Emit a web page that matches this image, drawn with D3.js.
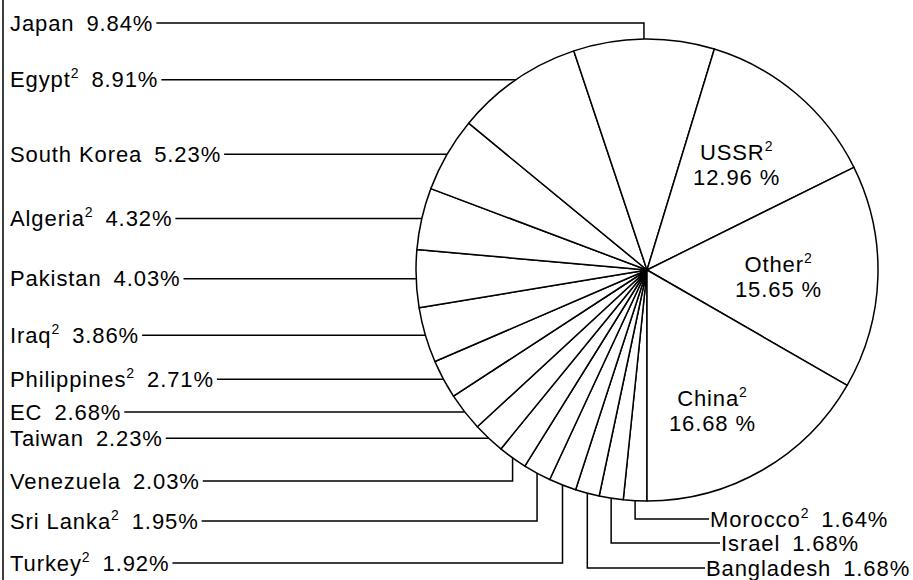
<!DOCTYPE html>
<html>
<head>
<meta charset="utf-8">
<script src="https://cdn.jsdelivr.net/npm/d3@7"></script>
<style>
  body { margin: 0; background: #fff; }
  text { font-family: "Liberation Sans", Arial, sans-serif; font-size: 22px; fill: #000; letter-spacing: 0.9px; }
</style>
</head>
<body>
<div id="chart"></div>
<script>
// slices, clockwise starting at 6 o'clock
const countries = ["Morocco", "Israel", "Bangladesh", "Turkey", "Sri Lanka", "Venezuela",
  "Taiwan", "EC", "Philippines", "Iraq", "Pakistan", "Algeria", "South Korea", "Egypt",
  "Japan", "USSR", "Other", "China"];
const shares = [1.64, 1.68, 1.68, 1.92, 1.95, 2.03, 2.23, 2.68, 2.71, 3.86, 4.03, 4.32,
  5.23, 8.91, 9.84, 12.96, 15.65, 16.68];
const footnote2 = ["Morocco", "Turkey", "Sri Lanka", "Philippines", "Iraq", "Algeria",
  "Egypt", "USSR", "Other", "China"];
const insideLabels = ["USSR", "Other", "China"];

const data = countries.map((c, i) => ({name: c, value: shares[i], note: footnote2.includes(c)}));

// layout for the outside labels (labels not listed here sit level with their slice)
const elbowLabels = {
  "Japan": {side: "left", y: 23},
  "Venezuela": {side: "left", y: 481},
  "Sri Lanka": {side: "left", y: 521},
  "Turkey": {side: "left", y: 563},
  "Bangladesh": {side: "right", x: 706, y: 568},
  "Israel": {side: "right", x: 721, y: 543},
  "Morocco": {side: "right", x: 710, y: 519}
};
const insidePos = {"USSR": {k: 0.6, da: 0}, "Other": {k: 0.57, da: 1}, "China": {k: 0.67, da: 5}};

const width = 913, height = 580;
const cx = 647, cy = 270, radius = 231;
const leftX = 10;

const svg = d3.select("#chart")
  .append("svg")
    .attr("width", width)
    .attr("height", height);

// frame edge on the left
svg.append("line")
  .attr("x1", 3).attr("x2", 3).attr("y1", 0).attr("y2", height)
  .attr("stroke", "#000").attr("stroke-width", 1.5);

const pie = d3.pie()
    .sort(null)
    .startAngle(Math.PI)
    .endAngle(3 * Math.PI)
  .value(d => d.value);

const arcs = pie(data);

const arc = d3.arc()
    .innerRadius(0)
    .outerRadius(radius);

const g = svg.append("g")
    .attr("transform", `translate(${cx}, ${cy})`);

g.selectAll("path")
  .data(arcs)
  .join("path")
    .attr("d", arc)
    .attr("fill", "#fff")
    .attr("stroke", "#000")
    .attr("stroke-width", 1.5)
    .attr("stroke-linejoin", "round");

function addLabel(sel, d) {
  sel.append("tspan").text(d.data.name);
  if (d.data.note) {
    sel.append("tspan").attr("dy", -9).style("font-size", "14px").text("2");
    sel.append("tspan").attr("dy", 9).attr("dx", 12).text(d.data.value.toFixed(2) + "%");
  } else {
    sel.append("tspan").attr("dx", 12).text(d.data.value.toFixed(2) + "%");
  }
}

const leaders = svg.append("g")
    .attr("fill", "none")
    .attr("stroke", "#000")
    .attr("stroke-width", 1.5);

arcs.forEach(d => {
  const name = d.data.name;
  if (insideLabels.includes(name)) return;
  const mid = (d.startAngle + d.endAngle) / 2;
  const px = cx + radius * Math.sin(mid);
  const py = cy - radius * Math.cos(mid);
  const lay = elbowLabels[name];

  if (lay && lay.side === "right") {
    const t = svg.append("text")
      .attr("x", lay.x).attr("y", lay.y).attr("dy", "0.35em");
    addLabel(t, d);
    leaders.append("path")
      .attr("d", d3.line()([[px, py], [px, lay.y], [lay.x - 1, lay.y]]));
    return;
  }

  const y = lay ? lay.y : py;
  const t = svg.append("text")
    .attr("x", leftX).attr("y", y).attr("dy", "0.35em");
  addLabel(t, d);
  const bb = t.node().getBBox();
  const x0 = bb.x + bb.width + 3;
  if (lay) {
    leaders.append("path")
      .attr("d", d3.line()([[x0, y], [px, y], [px, py]]));
  } else {
    const xe = cx - Math.sqrt(radius * radius - (y - cy) * (y - cy));
    leaders.append("path")
      .attr("d", d3.line()([[x0, y], [xe, y]]));
  }
});

// labels written inside the big slices
arcs.filter(d => insideLabels.includes(d.data.name)).forEach(d => {
  const p = insidePos[d.data.name];
  const a = (d.startAngle + d.endAngle) / 2 + p.da * Math.PI / 180;
  const x = cx + radius * p.k * Math.sin(a);
  const y = cy - radius * p.k * Math.cos(a);
  const t = svg.append("text")
    .attr("x", x).attr("y", y - 12).attr("dy", "0.35em")
    .attr("text-anchor", "middle");
  t.append("tspan").text(d.data.name);
  t.append("tspan").attr("dy", -9).style("font-size", "14px").text("2");
  svg.append("text")
    .attr("x", x).attr("y", y + 13).attr("dy", "0.35em")
    .attr("text-anchor", "middle")
    .text(d.data.value.toFixed(2) + " %");
});
</script>
</body>
</html>
